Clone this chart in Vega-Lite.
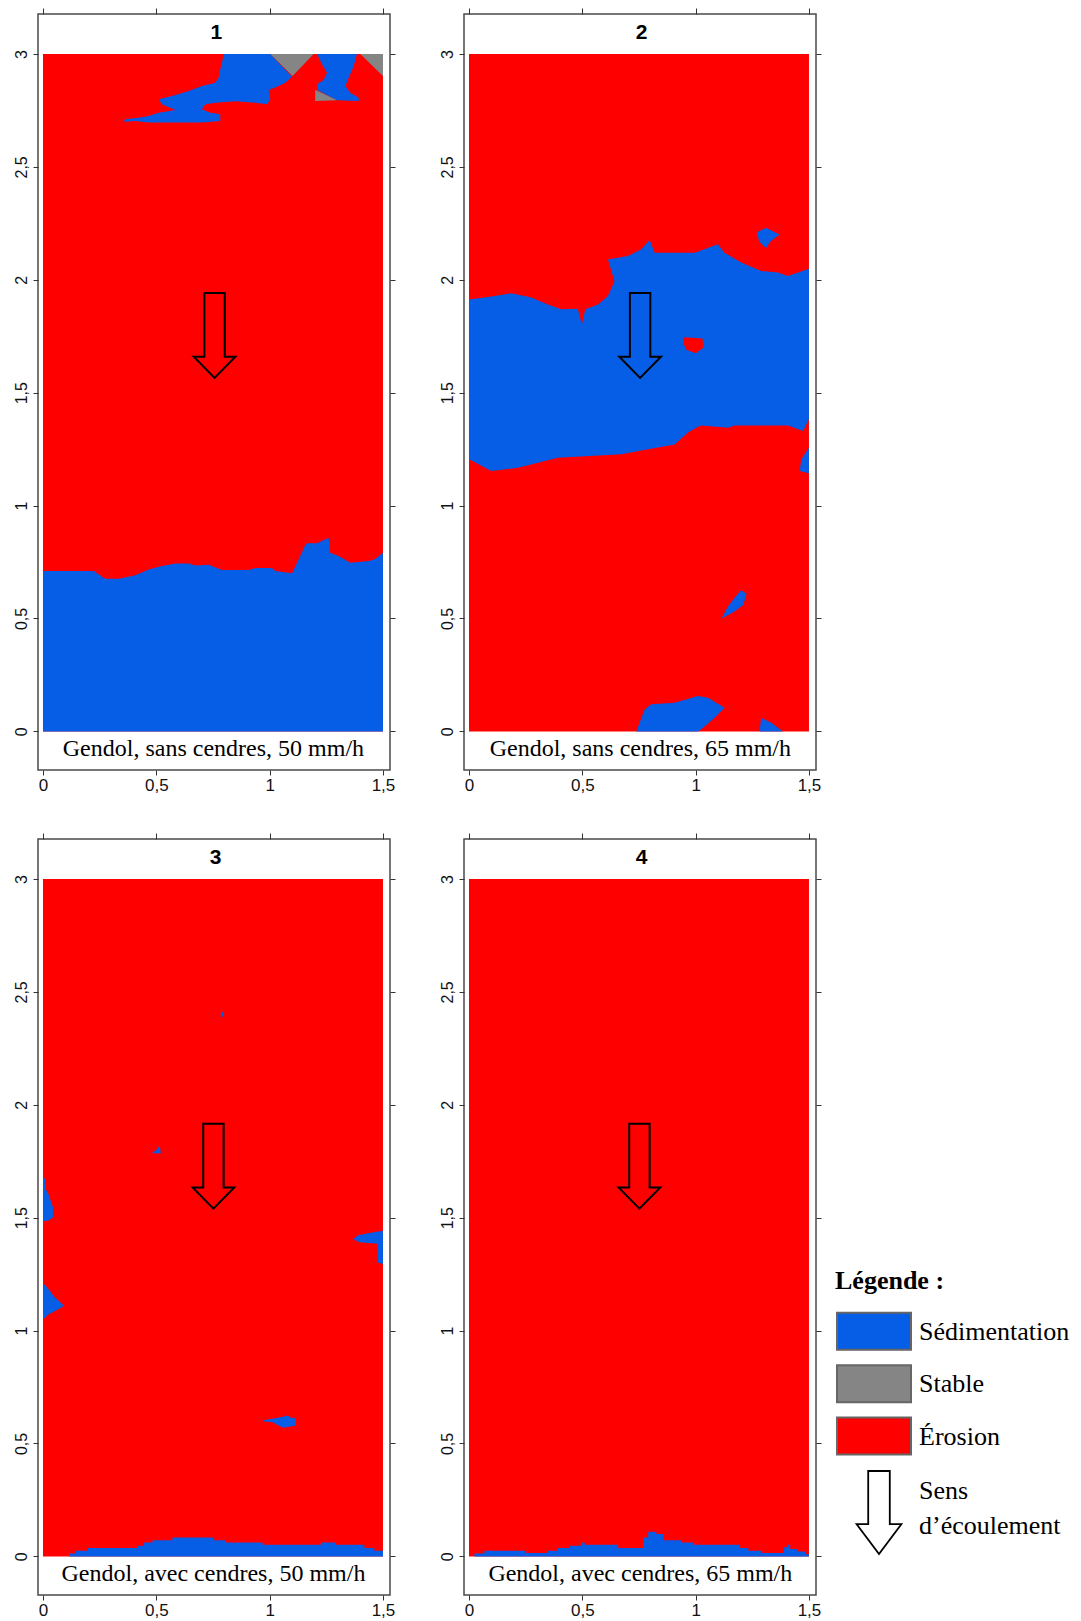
{
  "$schema": "https://vega.github.io/schema/vega-lite/v6.json",
  "padding": {"left": 12, "top": 6, "right": 0, "bottom": 0},
  "background": "white",
  "config": {
    "axis": {"grid": false, "domain": false, "tickColor": "#333333", "labelFont": "Liberation Sans", "labelColor": "#111111", "labelFlush": false, "labelOverlap": false}
  },
  "datasets": {
    "p1": [
      {"p":"a","c":"Sédimentation","x":0.797,"y":3.0},{"p":"a","c":"Sédimentation","x":1.003,"y":3.0},{"p":"a","c":"Sédimentation","x":1.099,"y":2.899},{"p":"a","c":"Sédimentation","x":1.069,"y":2.873},{"p":"a","c":"Sédimentation","x":1.025,"y":2.851},{"p":"a","c":"Sédimentation","x":0.996,"y":2.840},{"p":"a","c":"Sédimentation","x":1.003,"y":2.799},{"p":"a","c":"Sédimentation","x":0.988,"y":2.777},{"p":"a","c":"Sédimentation","x":0.937,"y":2.784},{"p":"a","c":"Sédimentation","x":0.849,"y":2.791},{"p":"a","c":"Sédimentation","x":0.760,"y":2.784},{"p":"a","c":"Sédimentation","x":0.716,"y":2.777},{"p":"a","c":"Sédimentation","x":0.701,"y":2.755},{"p":"a","c":"Sédimentation","x":0.738,"y":2.740},{"p":"a","c":"Sédimentation","x":0.782,"y":2.733},{"p":"a","c":"Sédimentation","x":0.782,"y":2.703},{"p":"a","c":"Sédimentation","x":0.701,"y":2.696},{"p":"a","c":"Sédimentation","x":0.466,"y":2.696},{"p":"a","c":"Sédimentation","x":0.407,"y":2.703},{"p":"a","c":"Sédimentation","x":0.356,"y":2.700},{"p":"a","c":"Sédimentation","x":0.363,"y":2.711},{"p":"a","c":"Sédimentation","x":0.422,"y":2.718},{"p":"a","c":"Sédimentation","x":0.466,"y":2.725},{"p":"a","c":"Sédimentation","x":0.510,"y":2.740},{"p":"a","c":"Sédimentation","x":0.584,"y":2.752},{"p":"a","c":"Sédimentation","x":0.525,"y":2.777},{"p":"a","c":"Sédimentation","x":0.510,"y":2.799},{"p":"a","c":"Sédimentation","x":0.569,"y":2.814},{"p":"a","c":"Sédimentation","x":0.643,"y":2.836},{"p":"a","c":"Sédimentation","x":0.701,"y":2.858},{"p":"a","c":"Sédimentation","x":0.760,"y":2.873},{"p":"a","c":"Sédimentation","x":0.775,"y":2.895},{"p":"a","c":"Sédimentation","x":0.782,"y":2.932},{"p":"a","c":"Sédimentation","x":0.790,"y":2.962},
      {"p":"b","c":"Sédimentation","x":1.209,"y":3.0},{"p":"b","c":"Sédimentation","x":1.385,"y":3.0},{"p":"b","c":"Sédimentation","x":1.371,"y":2.947},{"p":"b","c":"Sédimentation","x":1.349,"y":2.895},{"p":"b","c":"Sédimentation","x":1.334,"y":2.858},{"p":"b","c":"Sédimentation","x":1.356,"y":2.828},{"p":"b","c":"Sédimentation","x":1.393,"y":2.806},{"p":"b","c":"Sédimentation","x":1.393,"y":2.792},{"p":"b","c":"Sédimentation","x":1.297,"y":2.795},{"p":"b","c":"Sédimentation","x":1.209,"y":2.841},{"p":"b","c":"Sédimentation","x":1.209,"y":2.866},{"p":"b","c":"Sédimentation","x":1.238,"y":2.885},{"p":"b","c":"Sédimentation","x":1.253,"y":2.917},{"p":"b","c":"Sédimentation","x":1.231,"y":2.954},
      {"p":"c","c":"Sédimentation","x":0,"y":0.710},{"p":"c","c":"Sédimentation","x":0.224,"y":0.710},{"p":"c","c":"Sédimentation","x":0.274,"y":0.676},{"p":"c","c":"Sédimentation","x":0.335,"y":0.676},{"p":"c","c":"Sédimentation","x":0.407,"y":0.691},{"p":"c","c":"Sédimentation","x":0.466,"y":0.717},{"p":"c","c":"Sédimentation","x":0.525,"y":0.732},{"p":"c","c":"Sédimentation","x":0.584,"y":0.744},{"p":"c","c":"Sédimentation","x":0.643,"y":0.744},{"p":"c","c":"Sédimentation","x":0.672,"y":0.735},{"p":"c","c":"Sédimentation","x":0.731,"y":0.738},{"p":"c","c":"Sédimentation","x":0.790,"y":0.715},{"p":"c","c":"Sédimentation","x":0.907,"y":0.715},{"p":"c","c":"Sédimentation","x":0.937,"y":0.724},{"p":"c","c":"Sédimentation","x":1.010,"y":0.724},{"p":"c","c":"Sédimentation","x":1.025,"y":0.710},{"p":"c","c":"Sédimentation","x":1.099,"y":0.700},{"p":"c","c":"Sédimentation","x":1.157,"y":0.824},{"p":"c","c":"Sédimentation","x":1.165,"y":0.833},{"p":"c","c":"Sédimentation","x":1.209,"y":0.833},{"p":"c","c":"Sédimentation","x":1.260,"y":0.858},{"p":"c","c":"Sédimentation","x":1.267,"y":0.791},{"p":"c","c":"Sédimentation","x":1.304,"y":0.777},{"p":"c","c":"Sédimentation","x":1.356,"y":0.747},{"p":"c","c":"Sédimentation","x":1.437,"y":0.755},{"p":"c","c":"Sédimentation","x":1.466,"y":0.763},{"p":"c","c":"Sédimentation","x":1.5,"y":0.791},{"p":"c","c":"Sédimentation","x":1.5,"y":0},{"p":"c","c":"Sédimentation","x":0,"y":0},
      {"p":"d","c":"Stable","x":1.003,"y":3.0},{"p":"d","c":"Stable","x":1.194,"y":3.0},{"p":"d","c":"Stable","x":1.101,"y":2.902},
      {"p":"e","c":"Stable","x":1.201,"y":2.841},{"p":"e","c":"Stable","x":1.297,"y":2.795},{"p":"e","c":"Stable","x":1.201,"y":2.792},
      {"p":"f","c":"Stable","x":1.400,"y":3.0},{"p":"f","c":"Stable","x":1.5,"y":3.0},{"p":"f","c":"Stable","x":1.5,"y":2.902}
    ],
    "p2": [
      {"p":"a","c":"Sédimentation","x":0,"y":1.913},{"p":"a","c":"Sédimentation","x":0.084,"y":1.924},{"p":"a","c":"Sédimentation","x":0.187,"y":1.940},{"p":"a","c":"Sédimentation","x":0.275,"y":1.921},{"p":"a","c":"Sédimentation","x":0.348,"y":1.891},{"p":"a","c":"Sédimentation","x":0.407,"y":1.869},{"p":"a","c":"Sédimentation","x":0.480,"y":1.872},{"p":"a","c":"Sédimentation","x":0.498,"y":1.802},{"p":"a","c":"Sédimentation","x":0.513,"y":1.869},{"p":"a","c":"Sédimentation","x":0.569,"y":1.891},{"p":"a","c":"Sédimentation","x":0.613,"y":1.928},{"p":"a","c":"Sédimentation","x":0.642,"y":1.994},{"p":"a","c":"Sédimentation","x":0.613,"y":2.090},{"p":"a","c":"Sédimentation","x":0.701,"y":2.105},{"p":"a","c":"Sédimentation","x":0.760,"y":2.135},{"p":"a","c":"Sédimentation","x":0.797,"y":2.176},{"p":"a","c":"Sédimentation","x":0.819,"y":2.120},{"p":"a","c":"Sédimentation","x":0.996,"y":2.120},{"p":"a","c":"Sédimentation","x":1.098,"y":2.157},{"p":"a","c":"Sédimentation","x":1.127,"y":2.120},{"p":"a","c":"Sédimentation","x":1.201,"y":2.076},{"p":"a","c":"Sédimentation","x":1.289,"y":2.039},{"p":"a","c":"Sédimentation","x":1.363,"y":2.032},{"p":"a","c":"Sédimentation","x":1.407,"y":2.017},{"p":"a","c":"Sédimentation","x":1.5,"y":2.049},{"p":"a","c":"Sédimentation","x":1.5,"y":1.382},{"p":"a","c":"Sédimentation","x":1.474,"y":1.330},{"p":"a","c":"Sédimentation","x":1.407,"y":1.355},{"p":"a","c":"Sédimentation","x":1.172,"y":1.355},{"p":"a","c":"Sédimentation","x":1.143,"y":1.345},{"p":"a","c":"Sédimentation","x":1.025,"y":1.355},{"p":"a","c":"Sédimentation","x":1.010,"y":1.349},{"p":"a","c":"Sédimentation","x":0.966,"y":1.324},{"p":"a","c":"Sédimentation","x":0.907,"y":1.270},{"p":"a","c":"Sédimentation","x":0.790,"y":1.249},{"p":"a","c":"Sédimentation","x":0.672,"y":1.227},{"p":"a","c":"Sédimentation","x":0.392,"y":1.212},{"p":"a","c":"Sédimentation","x":0.216,"y":1.168},{"p":"a","c":"Sédimentation","x":0.098,"y":1.153},{"p":"a","c":"Sédimentation","x":0,"y":1.205},
      {"p":"b","c":"Sédimentation","x":1.27,"y":2.21},{"p":"b","c":"Sédimentation","x":1.31,"y":2.23},{"p":"b","c":"Sédimentation","x":1.37,"y":2.20},{"p":"b","c":"Sédimentation","x":1.33,"y":2.17},{"p":"b","c":"Sédimentation","x":1.31,"y":2.14},{"p":"b","c":"Sédimentation","x":1.28,"y":2.17},
      {"p":"c","c":"Sédimentation","x":1.5,"y":1.256},{"p":"c","c":"Sédimentation","x":1.466,"y":1.205},{"p":"c","c":"Sédimentation","x":1.459,"y":1.153},{"p":"c","c":"Sédimentation","x":1.5,"y":1.143},
      {"p":"d","c":"Sédimentation","x":1.115,"y":0.50},{"p":"d","c":"Sédimentation","x":1.17,"y":0.53},{"p":"d","c":"Sédimentation","x":1.21,"y":0.56},{"p":"d","c":"Sédimentation","x":1.225,"y":0.61},{"p":"d","c":"Sédimentation","x":1.2,"y":0.625},{"p":"d","c":"Sédimentation","x":1.17,"y":0.59},{"p":"d","c":"Sédimentation","x":1.14,"y":0.55},
      {"p":"e","c":"Sédimentation","x":0.738,"y":0},{"p":"e","c":"Sédimentation","x":0.775,"y":0.097},{"p":"e","c":"Sédimentation","x":0.804,"y":0.120},{"p":"e","c":"Sédimentation","x":0.907,"y":0.127},{"p":"e","c":"Sédimentation","x":1.010,"y":0.157},{"p":"e","c":"Sédimentation","x":1.054,"y":0.149},{"p":"e","c":"Sédimentation","x":1.128,"y":0.105},{"p":"e","c":"Sédimentation","x":1.084,"y":0.060},{"p":"e","c":"Sédimentation","x":1.025,"y":0.009},{"p":"e","c":"Sédimentation","x":1.010,"y":0},
      {"p":"f","c":"Sédimentation","x":1.282,"y":0},{"p":"f","c":"Sédimentation","x":1.289,"y":0.060},{"p":"f","c":"Sédimentation","x":1.334,"y":0.038},{"p":"f","c":"Sédimentation","x":1.385,"y":0},
      {"p":"z","c":"Érosion","x":0.95,"y":1.745},{"p":"z","c":"Érosion","x":1.03,"y":1.74},{"p":"z","c":"Érosion","x":1.035,"y":1.70},{"p":"z","c":"Érosion","x":1.0,"y":1.675},{"p":"z","c":"Érosion","x":0.96,"y":1.69},{"p":"z","c":"Érosion","x":0.945,"y":1.72}
    ],
    "p3": [
      {"p":"a","c":"Sédimentation","x":0,"y":1.674},{"p":"a","c":"Sédimentation","x":0.012,"y":1.674},{"p":"a","c":"Sédimentation","x":0.012,"y":1.627},{"p":"a","c":"Sédimentation","x":0.024,"y":1.605},{"p":"a","c":"Sédimentation","x":0.034,"y":1.575},{"p":"a","c":"Sédimentation","x":0.044,"y":1.546},{"p":"a","c":"Sédimentation","x":0.044,"y":1.501},{"p":"a","c":"Sédimentation","x":0.024,"y":1.487},{"p":"a","c":"Sédimentation","x":0,"y":1.484},
      {"p":"b","c":"Sédimentation","x":0.48,"y":1.785},{"p":"b","c":"Sédimentation","x":0.50,"y":1.80},{"p":"b","c":"Sédimentation","x":0.515,"y":1.82},{"p":"b","c":"Sédimentation","x":0.52,"y":1.785},
      {"p":"c","c":"Sédimentation","x":1.5,"y":1.442},{"p":"c","c":"Sédimentation","x":1.433,"y":1.431},{"p":"c","c":"Sédimentation","x":1.388,"y":1.421},{"p":"c","c":"Sédimentation","x":1.369,"y":1.406},{"p":"c","c":"Sédimentation","x":1.396,"y":1.391},{"p":"c","c":"Sédimentation","x":1.477,"y":1.384},{"p":"c","c":"Sédimentation","x":1.477,"y":1.302},{"p":"c","c":"Sédimentation","x":1.5,"y":1.295},
      {"p":"d","c":"Sédimentation","x":0,"y":1.21},{"p":"d","c":"Sédimentation","x":0.02,"y":1.19},{"p":"d","c":"Sédimentation","x":0.05,"y":1.15},{"p":"d","c":"Sédimentation","x":0.093,"y":1.11},{"p":"d","c":"Sédimentation","x":0.06,"y":1.09},{"p":"d","c":"Sédimentation","x":0.027,"y":1.073},{"p":"d","c":"Sédimentation","x":0,"y":1.05},
      {"p":"e","c":"Sédimentation","x":0.973,"y":0.603},{"p":"e","c":"Sédimentation","x":1.01,"y":0.61},{"p":"e","c":"Sédimentation","x":1.06,"y":0.618},{"p":"e","c":"Sédimentation","x":1.08,"y":0.625},{"p":"e","c":"Sédimentation","x":1.09,"y":0.615},{"p":"e","c":"Sédimentation","x":1.116,"y":0.612},{"p":"e","c":"Sédimentation","x":1.116,"y":0.58},{"p":"e","c":"Sédimentation","x":1.06,"y":0.57},{"p":"e","c":"Sédimentation","x":1.04,"y":0.58},{"p":"e","c":"Sédimentation","x":1.01,"y":0.595},{"p":"e","c":"Sédimentation","x":0.973,"y":0.597},
      {"p":"f","c":"Sédimentation","x":0.785,"y":2.39},{"p":"f","c":"Sédimentation","x":0.797,"y":2.39},{"p":"f","c":"Sédimentation","x":0.797,"y":2.41},{"p":"f","c":"Sédimentation","x":0.785,"y":2.41},
      {"p":"g","c":"Sédimentation","x":0.115,"y":0},{"p":"g","c":"Sédimentation","x":0.115,"y":0.013},{"p":"g","c":"Sédimentation","x":0.144,"y":0.013},{"p":"g","c":"Sédimentation","x":0.144,"y":0.025},{"p":"g","c":"Sédimentation","x":0.196,"y":0.025},{"p":"g","c":"Sédimentation","x":0.196,"y":0.037},{"p":"g","c":"Sédimentation","x":0.417,"y":0.037},{"p":"g","c":"Sédimentation","x":0.417,"y":0.047},{"p":"g","c":"Sédimentation","x":0.446,"y":0.047},{"p":"g","c":"Sédimentation","x":0.446,"y":0.062},{"p":"g","c":"Sédimentation","x":0.483,"y":0.062},{"p":"g","c":"Sédimentation","x":0.483,"y":0.072},{"p":"g","c":"Sédimentation","x":0.571,"y":0.072},{"p":"g","c":"Sédimentation","x":0.571,"y":0.084},{"p":"g","c":"Sédimentation","x":0.755,"y":0.084},{"p":"g","c":"Sédimentation","x":0.755,"y":0.072},{"p":"g","c":"Sédimentation","x":0.807,"y":0.072},{"p":"g","c":"Sédimentation","x":0.807,"y":0.062},{"p":"g","c":"Sédimentation","x":0.969,"y":0.062},{"p":"g","c":"Sédimentation","x":0.969,"y":0.052},{"p":"g","c":"Sédimentation","x":1.226,"y":0.052},{"p":"g","c":"Sédimentation","x":1.226,"y":0.062},{"p":"g","c":"Sédimentation","x":1.293,"y":0.062},{"p":"g","c":"Sédimentation","x":1.293,"y":0.052},{"p":"g","c":"Sédimentation","x":1.418,"y":0.052},{"p":"g","c":"Sédimentation","x":1.418,"y":0.037},{"p":"g","c":"Sédimentation","x":1.462,"y":0.037},{"p":"g","c":"Sédimentation","x":1.462,"y":0.025},{"p":"g","c":"Sédimentation","x":1.5,"y":0.025},{"p":"g","c":"Sédimentation","x":1.5,"y":0}
    ],
    "p4": [
      {"p":"a","c":"Sédimentation","x":0.024,"y":0},{"p":"a","c":"Sédimentation","x":0.024,"y":0.013},{"p":"a","c":"Sédimentation","x":0.068,"y":0.013},{"p":"a","c":"Sédimentation","x":0.068,"y":0.025},{"p":"a","c":"Sédimentation","x":0.252,"y":0.025},{"p":"a","c":"Sédimentation","x":0.252,"y":0.015},{"p":"a","c":"Sédimentation","x":0.348,"y":0.015},{"p":"a","c":"Sédimentation","x":0.348,"y":0.025},{"p":"a","c":"Sédimentation","x":0.392,"y":0.025},{"p":"a","c":"Sédimentation","x":0.392,"y":0.037},{"p":"a","c":"Sédimentation","x":0.444,"y":0.037},{"p":"a","c":"Sédimentation","x":0.444,"y":0.047},{"p":"a","c":"Sédimentation","x":0.496,"y":0.047},{"p":"a","c":"Sédimentation","x":0.496,"y":0.062},{"p":"a","c":"Sédimentation","x":0.510,"y":0.062},{"p":"a","c":"Sédimentation","x":0.510,"y":0.052},{"p":"a","c":"Sédimentation","x":0.658,"y":0.052},{"p":"a","c":"Sédimentation","x":0.658,"y":0.037},{"p":"a","c":"Sédimentation","x":0.768,"y":0.037},{"p":"a","c":"Sédimentation","x":0.768,"y":0.084},{"p":"a","c":"Sédimentation","x":0.791,"y":0.084},{"p":"a","c":"Sédimentation","x":0.791,"y":0.109},{"p":"a","c":"Sédimentation","x":0.827,"y":0.109},{"p":"a","c":"Sédimentation","x":0.827,"y":0.099},{"p":"a","c":"Sédimentation","x":0.857,"y":0.099},{"p":"a","c":"Sédimentation","x":0.857,"y":0.072},{"p":"a","c":"Sédimentation","x":0.938,"y":0.072},{"p":"a","c":"Sédimentation","x":0.938,"y":0.062},{"p":"a","c":"Sédimentation","x":0.990,"y":0.062},{"p":"a","c":"Sédimentation","x":0.990,"y":0.052},{"p":"a","c":"Sédimentation","x":1.196,"y":0.052},{"p":"a","c":"Sédimentation","x":1.196,"y":0.037},{"p":"a","c":"Sédimentation","x":1.233,"y":0.037},{"p":"a","c":"Sédimentation","x":1.233,"y":0.025},{"p":"a","c":"Sédimentation","x":1.292,"y":0.025},{"p":"a","c":"Sédimentation","x":1.292,"y":0.015},{"p":"a","c":"Sédimentation","x":1.388,"y":0.015},{"p":"a","c":"Sédimentation","x":1.388,"y":0.040},{"p":"a","c":"Sédimentation","x":1.403,"y":0.040},{"p":"a","c":"Sédimentation","x":1.403,"y":0.052},{"p":"a","c":"Sédimentation","x":1.417,"y":0.052},{"p":"a","c":"Sédimentation","x":1.417,"y":0.033},{"p":"a","c":"Sédimentation","x":1.447,"y":0.033},{"p":"a","c":"Sédimentation","x":1.447,"y":0.022},{"p":"a","c":"Sédimentation","x":1.484,"y":0.022},{"p":"a","c":"Sédimentation","x":1.484,"y":0.010},{"p":"a","c":"Sédimentation","x":1.5,"y":0.010},{"p":"a","c":"Sédimentation","x":1.5,"y":0}
    ],
    "legend": [{"c":"Sédimentation"},{"c":"Stable"},{"c":"Érosion"}]
  },
  "vconcat": [
    {
      "bounds": "flush",
      "spacing": 74,
      "hconcat": [
        {
          "width": 352, "height": 756,
          "view": {"stroke": "#4a4a4a", "strokeWidth": 1.5},
          "resolve": {"axis": {"x": "independent", "y": "independent"}},
          "layer": [
            {"data": {"values": [{"c": "Érosion"}]}, "mark": {"type": "rect", "fill": "#ff0000"},
             "encoding": {
               "x": {"datum": 0, "type": "quantitative", "scale": {"domain": [-0.022, 1.531], "nice": false, "zero": false}, "axis": {"orient": "bottom", "title": null, "values": [0, 0.5, 1, 1.5], "labelExpr": "replace(format(datum.value, '~g'), '.', ',')", "tickSize": 5, "labelPadding": 2, "labelFontSize": 17}},
               "x2": {"datum": 1.5},
               "y": {"datum": 0, "type": "quantitative", "scale": {"domain": [-0.171, 3.177], "nice": false, "zero": false}, "axis": {"orient": "left", "title": null, "values": [0, 0.5, 1, 1.5, 2, 2.5, 3], "labelExpr": "replace(format(datum.value, '~g'), '.', ',')", "labelAngle": 270, "labelAlign": "center", "labelBaseline": "bottom", "tickSize": 5, "labelPadding": 4, "labelFontSize": 16}},
               "y2": {"datum": 3}
             }},
            {"data": {"name": "p1"}, "mark": {"type": "line", "filled": true, "interpolate": "linear-closed", "opacity": 1},
             "encoding": {
               "x": {"field": "x", "type": "quantitative", "axis": {"orient": "top", "title": null, "labels": false, "values": [0, 0.5, 1, 1.5], "tickSize": 6}},
               "y": {"field": "y", "type": "quantitative", "axis": {"orient": "right", "title": null, "labels": false, "values": [0, 0.5, 1, 1.5, 2, 2.5, 3], "tickSize": 5}},
               "detail": {"field": "p"},
               "order": {"value": null},
               "color": {"field": "c", "type": "nominal", "scale": {"domain": ["Sédimentation", "Stable", "Érosion"], "range": ["#065ee6", "#858585", "#ff0000"]}, "legend": null}
             }},
            {"data": {"values": [{"sens": "écoulement"}]}, "mark": {"type": "point", "shape": "M-0.24,-1L0.24,-1L0.24,0.5L0.49,0.5L0,1L-0.49,0.5L-0.24,0.5Z", "size": 7225, "filled": false, "stroke": "#000000", "strokeWidth": 2, "opacity": 1},
             "encoding": {"x": {"datum": 0.757, "axis": null}, "y": {"datum": 1.7535, "axis": null}}},
            {"data": {"values": [{"t": "1"}]}, "mark": {"type": "text", "font": "Liberation Sans", "fontWeight": "bold", "fontSize": 21, "baseline": "middle", "color": "#000000"},
             "encoding": {"x": {"datum": 0.765, "axis": null}, "y": {"datum": 3.095, "axis": null}, "text": {"field": "t"}}},
            {"data": {"values": [{"t": "Gendol, sans cendres, 50 mm/h"}]}, "mark": {"type": "text", "font": "Liberation Serif", "fontSize": 24, "baseline": "alphabetic", "color": "#000000"},
             "encoding": {"x": {"datum": 0.752, "axis": null}, "y": {"datum": -0.108, "axis": null}, "text": {"field": "t"}}}
          ]
        },
        {
          "width": 352, "height": 756,
          "view": {"stroke": "#4a4a4a", "strokeWidth": 1.5},
          "resolve": {"axis": {"x": "independent", "y": "independent"}},
          "layer": [
            {"data": {"values": [{"c": "Érosion"}]}, "mark": {"type": "rect", "fill": "#ff0000"},
             "encoding": {
               "x": {"datum": 0, "type": "quantitative", "scale": {"domain": [-0.022, 1.531], "nice": false, "zero": false}, "axis": {"orient": "bottom", "title": null, "values": [0, 0.5, 1, 1.5], "labelExpr": "replace(format(datum.value, '~g'), '.', ',')", "tickSize": 5, "labelPadding": 2, "labelFontSize": 17}},
               "x2": {"datum": 1.5},
               "y": {"datum": 0, "type": "quantitative", "scale": {"domain": [-0.171, 3.177], "nice": false, "zero": false}, "axis": {"orient": "left", "title": null, "values": [0, 0.5, 1, 1.5, 2, 2.5, 3], "labelExpr": "replace(format(datum.value, '~g'), '.', ',')", "labelAngle": 270, "labelAlign": "center", "labelBaseline": "bottom", "tickSize": 5, "labelPadding": 4, "labelFontSize": 16}},
               "y2": {"datum": 3}
             }},
            {"data": {"name": "p2"}, "mark": {"type": "line", "filled": true, "interpolate": "linear-closed", "opacity": 1},
             "encoding": {
               "x": {"field": "x", "type": "quantitative", "axis": {"orient": "top", "title": null, "labels": false, "values": [0, 0.5, 1, 1.5], "tickSize": 6}},
               "y": {"field": "y", "type": "quantitative", "axis": {"orient": "right", "title": null, "labels": false, "values": [0, 0.5, 1, 1.5, 2, 2.5, 3], "tickSize": 5}},
               "detail": {"field": "p"},
               "order": {"value": null},
               "color": {"field": "c", "type": "nominal", "scale": {"domain": ["Sédimentation", "Stable", "Érosion"], "range": ["#065ee6", "#858585", "#ff0000"]}, "legend": null}
             }},
            {"data": {"values": [{"sens": "écoulement"}]}, "mark": {"type": "point", "shape": "M-0.24,-1L0.24,-1L0.24,0.5L0.49,0.5L0,1L-0.49,0.5L-0.24,0.5Z", "size": 7225, "filled": false, "stroke": "#000000", "strokeWidth": 2, "opacity": 1},
             "encoding": {"x": {"datum": 0.755, "axis": null}, "y": {"datum": 1.7535, "axis": null}}},
            {"data": {"values": [{"t": "2"}]}, "mark": {"type": "text", "font": "Liberation Sans", "fontWeight": "bold", "fontSize": 21, "baseline": "middle", "color": "#000000"},
             "encoding": {"x": {"datum": 0.762, "axis": null}, "y": {"datum": 3.095, "axis": null}, "text": {"field": "t"}}},
            {"data": {"values": [{"t": "Gendol, sans cendres, 65 mm/h"}]}, "mark": {"type": "text", "font": "Liberation Serif", "fontSize": 24, "baseline": "alphabetic", "color": "#000000"},
             "encoding": {"x": {"datum": 0.756, "axis": null}, "y": {"datum": -0.108, "axis": null}, "text": {"field": "t"}}}
          ]
        }
      ]
    },
    {
      "bounds": "flush",
      "spacing": 74,
      "hconcat": [
        {
          "width": 352, "height": 756,
          "view": {"stroke": "#4a4a4a", "strokeWidth": 1.5},
          "resolve": {"axis": {"x": "independent", "y": "independent"}},
          "layer": [
            {"data": {"values": [{"c": "Érosion"}]}, "mark": {"type": "rect", "fill": "#ff0000"},
             "encoding": {
               "x": {"datum": 0, "type": "quantitative", "scale": {"domain": [-0.022, 1.531], "nice": false, "zero": false}, "axis": {"orient": "bottom", "title": null, "values": [0, 0.5, 1, 1.5], "labelExpr": "replace(format(datum.value, '~g'), '.', ',')", "tickSize": 5, "labelPadding": 2, "labelFontSize": 17}},
               "x2": {"datum": 1.5},
               "y": {"datum": 0, "type": "quantitative", "scale": {"domain": [-0.171, 3.177], "nice": false, "zero": false}, "axis": {"orient": "left", "title": null, "values": [0, 0.5, 1, 1.5, 2, 2.5, 3], "labelExpr": "replace(format(datum.value, '~g'), '.', ',')", "labelAngle": 270, "labelAlign": "center", "labelBaseline": "bottom", "tickSize": 5, "labelPadding": 4, "labelFontSize": 16}},
               "y2": {"datum": 3}
             }},
            {"data": {"name": "p3"}, "mark": {"type": "line", "filled": true, "interpolate": "linear-closed", "opacity": 1},
             "encoding": {
               "x": {"field": "x", "type": "quantitative", "axis": {"orient": "top", "title": null, "labels": false, "values": [0, 0.5, 1, 1.5], "tickSize": 6}},
               "y": {"field": "y", "type": "quantitative", "axis": {"orient": "right", "title": null, "labels": false, "values": [0, 0.5, 1, 1.5, 2, 2.5, 3], "tickSize": 5}},
               "detail": {"field": "p"},
               "order": {"value": null},
               "color": {"field": "c", "type": "nominal", "scale": {"domain": ["Sédimentation", "Stable", "Érosion"], "range": ["#065ee6", "#858585", "#ff0000"]}, "legend": null}
             }},
            {"data": {"values": [{"sens": "écoulement"}]}, "mark": {"type": "point", "shape": "M-0.24,-1L0.24,-1L0.24,0.5L0.49,0.5L0,1L-0.49,0.5L-0.24,0.5Z", "size": 7225, "filled": false, "stroke": "#000000", "strokeWidth": 2, "opacity": 1},
             "encoding": {"x": {"datum": 0.752, "axis": null}, "y": {"datum": 1.728, "axis": null}}},
            {"data": {"values": [{"t": "3"}]}, "mark": {"type": "text", "font": "Liberation Sans", "fontWeight": "bold", "fontSize": 21, "baseline": "middle", "color": "#000000"},
             "encoding": {"x": {"datum": 0.762, "axis": null}, "y": {"datum": 3.095, "axis": null}, "text": {"field": "t"}}},
            {"data": {"values": [{"t": "Gendol, avec cendres, 50 mm/h"}]}, "mark": {"type": "text", "font": "Liberation Serif", "fontSize": 24, "baseline": "alphabetic", "color": "#000000"},
             "encoding": {"x": {"datum": 0.752, "axis": null}, "y": {"datum": -0.108, "axis": null}, "text": {"field": "t"}}}
          ]
        },
        {
          "bounds": "flush",
          "spacing": 10,
          "hconcat": [
            {
              "width": 352, "height": 756,
              "view": {"stroke": "#4a4a4a", "strokeWidth": 1.5},
              "resolve": {"axis": {"x": "independent", "y": "independent"}},
              "layer": [
                {"data": {"values": [{"c": "Érosion"}]}, "mark": {"type": "rect", "fill": "#ff0000"},
                 "encoding": {
                   "x": {"datum": 0, "type": "quantitative", "scale": {"domain": [-0.022, 1.531], "nice": false, "zero": false}, "axis": {"orient": "bottom", "title": null, "values": [0, 0.5, 1, 1.5], "labelExpr": "replace(format(datum.value, '~g'), '.', ',')", "tickSize": 5, "labelPadding": 2, "labelFontSize": 17}},
                   "x2": {"datum": 1.5},
                   "y": {"datum": 0, "type": "quantitative", "scale": {"domain": [-0.171, 3.177], "nice": false, "zero": false}, "axis": {"orient": "left", "title": null, "values": [0, 0.5, 1, 1.5, 2, 2.5, 3], "labelExpr": "replace(format(datum.value, '~g'), '.', ',')", "labelAngle": 270, "labelAlign": "center", "labelBaseline": "bottom", "tickSize": 5, "labelPadding": 4, "labelFontSize": 16}},
                   "y2": {"datum": 3}
                 }},
                {"data": {"name": "p4"}, "mark": {"type": "line", "filled": true, "interpolate": "linear-closed", "opacity": 1},
                 "encoding": {
                   "x": {"field": "x", "type": "quantitative", "axis": {"orient": "top", "title": null, "labels": false, "values": [0, 0.5, 1, 1.5], "tickSize": 6}},
                   "y": {"field": "y", "type": "quantitative", "axis": {"orient": "right", "title": null, "labels": false, "values": [0, 0.5, 1, 1.5, 2, 2.5, 3], "tickSize": 5}},
                   "detail": {"field": "p"},
                   "order": {"value": null},
                   "color": {"field": "c", "type": "nominal", "scale": {"domain": ["Sédimentation", "Stable", "Érosion"], "range": ["#065ee6", "#858585", "#ff0000"]}, "legend": null}
                 }},
                {"data": {"values": [{"sens": "écoulement"}]}, "mark": {"type": "point", "shape": "M-0.24,-1L0.24,-1L0.24,0.5L0.49,0.5L0,1L-0.49,0.5L-0.24,0.5Z", "size": 7225, "filled": false, "stroke": "#000000", "strokeWidth": 2, "opacity": 1},
                 "encoding": {"x": {"datum": 0.752, "axis": null}, "y": {"datum": 1.728, "axis": null}}},
                {"data": {"values": [{"t": "4"}]}, "mark": {"type": "text", "font": "Liberation Sans", "fontWeight": "bold", "fontSize": 21, "baseline": "middle", "color": "#000000"},
                 "encoding": {"x": {"datum": 0.762, "axis": null}, "y": {"datum": 3.095, "axis": null}, "text": {"field": "t"}}},
                {"data": {"values": [{"t": "Gendol, avec cendres, 65 mm/h"}]}, "mark": {"type": "text", "font": "Liberation Serif", "fontSize": 24, "baseline": "alphabetic", "color": "#000000"},
                 "encoding": {"x": {"datum": 0.756, "axis": null}, "y": {"datum": -0.108, "axis": null}, "text": {"field": "t"}}}
              ]
            },
            {
              "width": 250, "height": 756,
              "view": {"stroke": null},
              "layer": [
                {"data": {"values": [{"t": "Légende :"}]}, "mark": {"type": "text", "font": "Liberation Serif", "fontSize": 26, "fontWeight": "bold", "align": "left", "baseline": "alphabetic", "dy": 9.7, "color": "#000000"},
                 "encoding": {
                   "x": {"datum": 0.036, "type": "quantitative", "scale": {"domain": [0, 1], "nice": false, "zero": false}, "axis": null},
                   "y": {"datum": "Légende :", "type": "nominal", "scale": {"type": "point", "domain": ["Légende :", "Sédimentation", "Stable", "Érosion"], "range": [440, 597], "padding": 0}, "axis": null},
                   "text": {"field": "t"}
                 }},
                {"data": {"name": "legend"}, "mark": {"type": "point", "shape": "M-1,-0.5L1,-0.5L1,0.5L-1,0.5Z", "size": 5476, "filled": true, "opacity": 1, "stroke": "#666666", "strokeWidth": 2},
                 "encoding": {
                   "x": {"datum": 0.192, "axis": null},
                   "y": {"field": "c", "type": "nominal", "axis": null},
                   "color": {"field": "c", "type": "nominal", "scale": {"domain": ["Sédimentation", "Stable", "Érosion"], "range": ["#0a74ff", "#808080", "#ff0000"]}, "legend": null}
                 }},
                {"data": {"name": "legend"}, "mark": {"type": "text", "font": "Liberation Serif", "fontSize": 26, "align": "left", "baseline": "alphabetic", "dy": 8.5, "color": "#000000"},
                 "encoding": {
                   "x": {"datum": 0.372, "axis": null},
                   "y": {"field": "c", "type": "nominal", "axis": null},
                   "text": {"field": "c"}
                 }},
                {"data": {"values": [{"t": "Sens d’écoulement"}]}, "mark": {"type": "point", "shape": "M-0.26,-1L0.26,-1L0.26,0.28L0.54,0.28L0,1L-0.54,0.28L-0.26,0.28Z", "size": 6889, "filled": true, "fill": "#ffffff", "stroke": "#000000", "strokeWidth": 1.8, "opacity": 1, "yOffset": 76.5},
                 "encoding": {"x": {"datum": 0.212, "axis": null}, "y": {"datum": "Érosion", "type": "nominal", "axis": null}}},
                {"data": {"values": [{"t": "Sens d’écoulement"}]}, "mark": {"type": "text", "font": "Liberation Serif", "fontSize": 26, "align": "left", "baseline": "alphabetic", "lineBreak": " ", "lineHeight": 35, "yOffset": 63, "color": "#000000"},
                 "encoding": {"x": {"datum": 0.372, "axis": null}, "y": {"datum": "Érosion", "type": "nominal", "axis": null}, "text": {"field": "t"}}}
              ]
            }
          ]
        }
      ]
    }
  ],
  "spacing": 37,
  "bounds": "full"
}
